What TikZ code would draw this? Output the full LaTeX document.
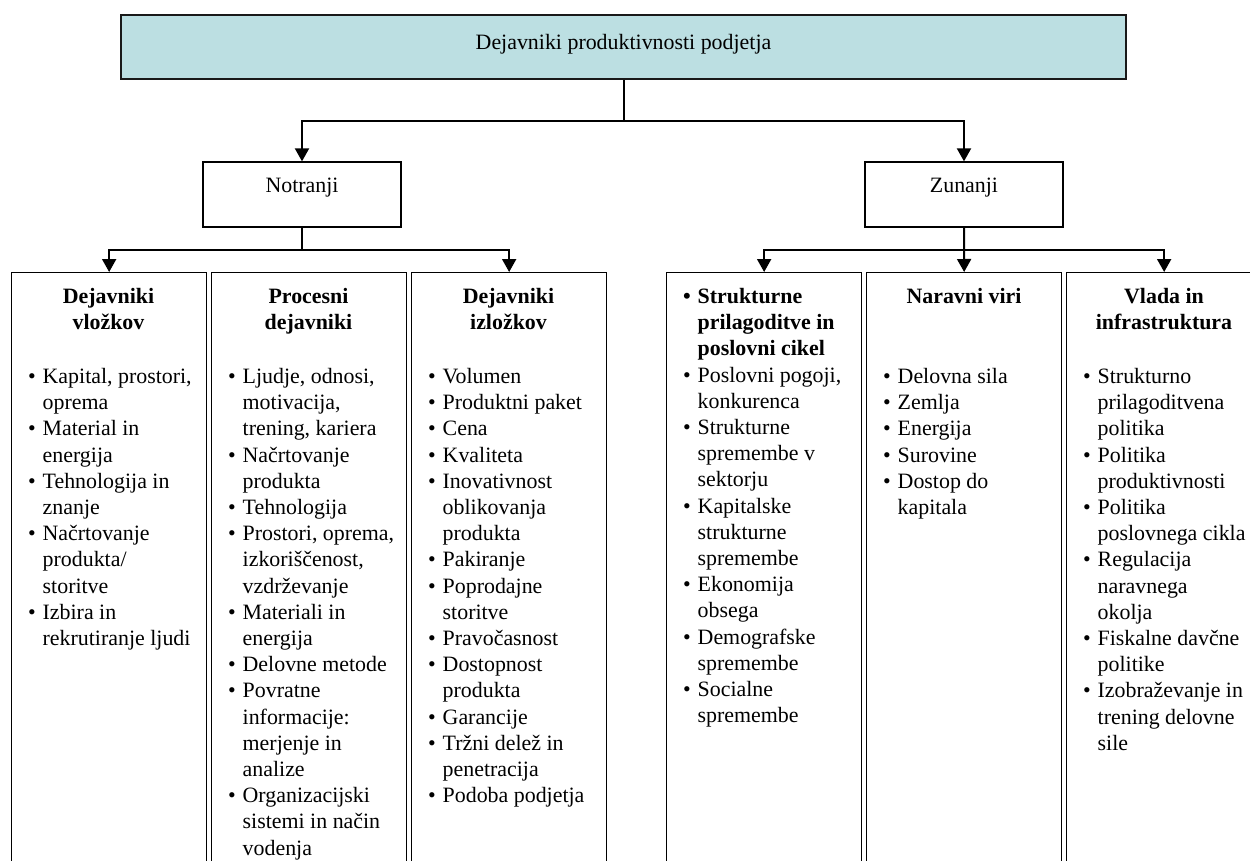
\documentclass[tikz,border=0pt]{standalone}
\usepackage{fontspec}
\setmainfont{Liberation Serif}
\usetikzlibrary{arrows.meta}
\definecolor{headfill}{HTML}{BCDFE2}
% bullet hung to the left of the item text
\newcommand\colbullet{\llap{\textbullet\hspace{7pt}}}
\begin{document}
\begin{tikzpicture}[x=1pt,y=-1pt,
  every node/.style={font=\fontsize{21.9}{26.2}\selectfont},
  headbox/.style={draw=black!90, line width=2pt, fill=headfill,
    minimum width=1005pt, minimum height=64pt,
    text height=16pt, text depth=11pt, inner sep=0pt},
  groupbox/.style={draw, line width=1.3pt, minimum width=198pt, minimum height=65pt,
    text height=16pt, text depth=20pt, inner sep=0pt},
  colbox/.style={draw, line width=1.3pt, minimum width=195pt, minimum height=620pt,
    anchor=north west, inner sep=0pt},
  coltitle/.style={anchor=north, align=center, inner sep=0pt,
    font=\fontsize{21.9}{26.2}\selectfont\bfseries},
  collist/.style={anchor=north west, align=left, inner sep=0pt},
  link/.style={line width=2pt},
  linkarrow/.style={link, -{Triangle[length=13pt,width=14pt]}},
]
\useasboundingbox (0,0) rectangle (1250,861);

% top level and the two groups
\node[headbox] (head) at (623.5,47) {Dejavniki produktivnosti podjetja};
\node[groupbox] (inner) at (302,194.5) {Notranji};
\node[groupbox] (outer) at (964,194.5) {Zunanji};

% six factor columns
\node[colbox] (c1) at (11,272) {};
\node[colbox] (c2) at (211,272) {};
\node[colbox] (c3) at (411,272) {};
\node[colbox] (c4) at (666,272) {};
\node[colbox] (c5) at (866,272) {};
\node[colbox] (c6) at (1066,272) {};

% column headings
\node[coltitle] (t1) at (108.5,285) {\strut Dejavniki\\vložkov};
\node[coltitle] (t2) at (308.5,285) {\strut Procesni\\dejavniki};
\node[coltitle] (t3) at (508.5,285) {\strut Dejavniki\\izložkov};
\node[coltitle] (t5) at (964,285) {\strut Naravni viri};
\node[coltitle] (t6) at (1164,285) {\strut Vlada in\\infrastruktura};

% column contents
\node[collist] (l1) at (42.5,365) {\strut\colbullet Kapital, prostori,\\ oprema\\
  \colbullet Material in\\ energija\\ \colbullet Tehnologija in\\ znanje\\
  \colbullet Načrtovanje\\ produkta/\\ storitve\\ \colbullet Izbira in\\ rekrutiranje ljudi};
\node[collist] (l2) at (242.5,365) {\strut\colbullet Ljudje, odnosi,\\ motivacija,\\ trening, kariera\\
  \colbullet Načrtovanje\\ produkta\\ \colbullet Tehnologija\\
  \colbullet Prostori, oprema,\\ izkoriščenost,\\ vzdrževanje\\
  \colbullet Materiali in\\ energija\\ \colbullet Delovne metode\\
  \colbullet Povratne\\ informacije:\\ merjenje in\\ analize\\
  \colbullet Organizacijski\\ sistemi in način\\ vodenja};
\node[collist] (l3) at (442.5,365) {\strut\colbullet Volumen\\ \colbullet Produktni paket\\
  \colbullet Cena\\ \colbullet Kvaliteta\\ \colbullet Inovativnost\\ oblikovanja\\ produkta\\
  \colbullet Pakiranje\\ \colbullet Poprodajne\\ storitve\\ \colbullet Pravočasnost\\
  \colbullet Dostopnost\\ produkta\\ \colbullet Garancije\\ \colbullet Tržni delež in\\
  penetracija\\ \colbullet Podoba podjetja};
\node[collist] (l4) at (697.5,285) {\strut{\bfseries\colbullet Strukturne}\\
  \textbf{prilagoditve in}\\ \textbf{poslovni cikel}\\
  \colbullet Poslovni pogoji,\\ konkurenca\\ \colbullet Strukturne\\ spremembe v\\ sektorju\\
  \colbullet Kapitalske\\ strukturne\\ spremembe\\ \colbullet Ekonomija\\ obsega\\
  \colbullet Demografske\\ spremembe\\ \colbullet Socialne\\ spremembe};
\node[collist] (l5) at (897.5,365) {\strut\colbullet Delovna sila\\ \colbullet Zemlja\\
  \colbullet Energija\\ \colbullet Surovine\\ \colbullet Dostop do\\ kapitala};
\node[collist] (l6) at (1097.5,365) {\strut\colbullet Strukturno\\ prilagoditvena\\ politika\\
  \colbullet Politika\\ produktivnosti\\ \colbullet Politika\\ poslovnega cikla\\
  \colbullet Regulacija\\ naravnega\\ okolja\\ \colbullet Fiskalne davčne\\ politike\\
  \colbullet Izobraževanje in\\ trening delovne\\ sile};

% connectors
\coordinate (lvl1) at (0,121);
\coordinate (lvl2) at (0,250);
\draw[link] (head.south) -- (head.south |- lvl1);
\draw[linkarrow] (head.south |- lvl1) -| (inner.north);
\draw[linkarrow] (head.south |- lvl1) -| (outer.north);
\draw[link] (inner.south) -- (inner.south |- lvl2);
\draw[linkarrow] (inner.south |- lvl2) -| (c1.north);
\draw[linkarrow] (inner.south |- lvl2) -| (c3.north);
\draw[linkarrow] (outer.south) -- (c5.north);
\draw[linkarrow] (outer.south |- lvl2) -| (c4.north);
\draw[linkarrow] (outer.south |- lvl2) -| (c6.north);
\end{tikzpicture}
\end{document}
